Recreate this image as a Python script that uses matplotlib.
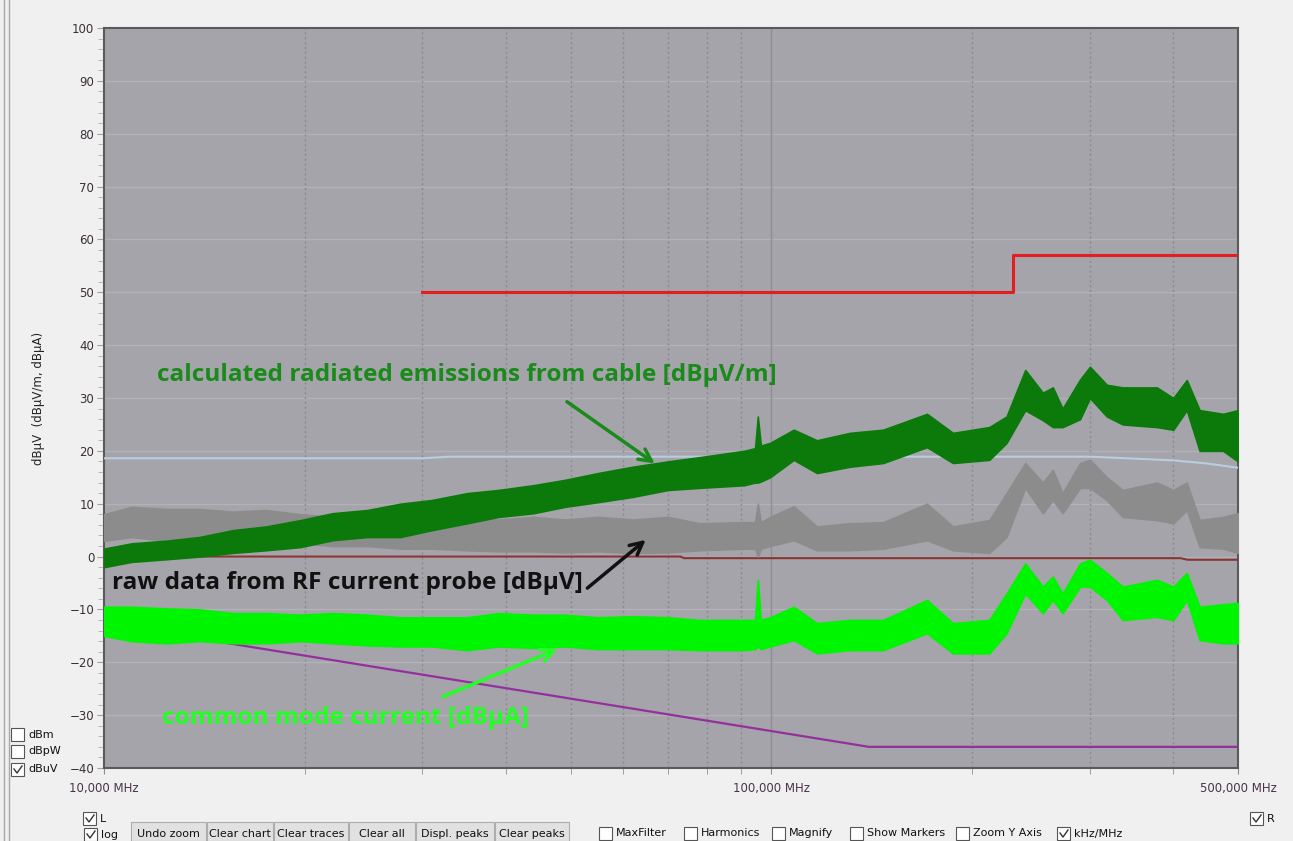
import numpy as np
import matplotlib
matplotlib.use("Agg")
import matplotlib.pyplot as plt
from matplotlib.patches import Rectangle

W, H = 1293, 841

# frequency grid (MHz) used for the noisy traces
freq = [10, 11, 12.4, 13.9, 15.6, 17.5, 19.7, 22, 24.8, 27.8, 31, 35, 39, 44, 49,
        55, 62, 70, 78, 91, 94.5, 95.4, 96.4, 99.5, 108, 117, 131, 147, 171, 187,
        212, 225, 240, 255, 264, 273, 290, 300, 318, 336, 378, 400, 419, 438, 475, 500]

# calculated radiated emissions [dBuV/m] - lower / upper envelope of the trace
re_lo = [-2, -1, -0.5, 0, 0.7, 1.2, 1.8, 3.1, 3.7, 3.7, 5, 6.3, 7.5, 8.2, 9.4,
         10.3, 11.3, 12.6, 13, 13.5, 14, 14, 14.2, 15, 18.3, 15.8, 17, 17.7, 20.7, 17.7,
         18.3, 21.5, 27.7, 25.8, 24.5, 24.5, 26, 30, 26.5, 25, 24.5, 24, 27.7, 20, 20, 18]
re_hi = [1.5, 2.5, 3, 3.7, 5, 5.7, 6.9, 8.2, 8.8, 10, 10.7, 12, 12.6, 13.5, 14.5,
         15.8, 17, 18, 18.8, 20, 20.5, 26.5, 21, 21.5, 24, 22, 23.4, 24, 27, 23.4,
         24.5, 26.5, 35.3, 31, 32, 28, 33.5, 35.9, 32.5, 32, 32, 30, 33.4, 27.7, 27, 27.7]

# raw data from RF current probe [dBuV]
raw_lo = [3, 3.7, 3, 3.5, 3, 3, 2.5, 2, 2, 1.5, 1.5, 1.2, 1, 1, 0.8,
          1, 0.7, 0.8, 1.2, 1.5, 1.5, 0, 1.5, 2, 3.1, 1.2, 1.2, 1.5, 3.1, 1.2,
          0.7, 3.7, 13, 8.2, 10.7, 8.2, 13, 13, 10.7, 7.5, 6.9, 6.3, 8.8, 1.8, 1.5, 0.7]
raw_hi = [8, 9.4, 9, 9, 8.5, 8.8, 8, 7.5, 7.5, 7, 7, 6.9, 7, 7.5, 7,
          7.5, 7, 7.5, 6.3, 6.5, 6.5, 10, 6.5, 7.5, 9.5, 5.7, 6.3, 6.5, 10, 5.7,
          6.9, 12, 17.7, 14, 16.4, 12, 17.7, 18.3, 15, 12.6, 14, 12.6, 14, 6.9, 7.5, 8.2]

# common mode current [dBuA]
cm_lo = [-15, -16, -16.4, -16, -16.4, -16.4, -16, -16.4, -16.8, -17, -17, -17.7, -17, -17.3, -17,
         -17.5, -17.5, -17.5, -17.7, -17.7, -17.5, -17, -17.5, -17, -15.8, -18.3, -17.7, -17.7, -14.5, -18.3,
         -18.3, -14.5, -7, -10.7, -8.2, -10.7, -5.7, -5.7, -8.2, -12, -11.4, -12, -8.2, -15.8, -16.4, -16.4]
cm_hi = [-9.5, -9.5, -9.8, -10, -10.7, -10.7, -11, -10.7, -11, -11.5, -11.5, -11.5, -10.7, -11, -11,
         -11.5, -11.3, -11.5, -12, -12, -12, -4.4, -12, -11.5, -9.5, -12.6, -12, -12, -8.2, -12.6,
         -12, -7, -1.3, -5.7, -3.8, -7, -1.3, -0.6, -3.1, -5.7, -4.4, -5.7, -3.1, -9.5, -9, -8.8]

# limit and reference lines
limit_f = [30, 230, 230, 500]
limit_v = [50, 50, 57, 57]
blue_f = [10, 30, 33, 230, 300, 340, 400, 450, 500]
blue_v = [18.6, 18.6, 18.9, 18.9, 18.9, 18.6, 18.2, 17.6, 16.8]
dred_f = [10, 73, 74, 410, 420, 500]
dred_v = [0, 0, -0.3, -0.3, -0.6, -0.6]
purple_f = [10, 140, 500]
purple_v = [-12.6, -36, -36]

xticks = [10, 100, 500]
xlabels = ["10,000 MHz", "100,000 MHz", "500,000 MHz"]


def fx(x):
    return x / W


def fy(y):
    return 1 - y / H


fig = plt.figure(figsize=(W / 100, H / 100), dpi=100)
fig.patch.set_facecolor("#f0f0f0")

ax = fig.add_axes([fx(104), fy(768), fx(1238) - fx(104), fy(28) - fy(768)])
ax.set_facecolor("#a5a4aa")
ax.set_xscale("log")
ax.set_xlim(10, 500)
ax.set_ylim(-40, 100)

# grid
for v in range(-30, 100, 10):
    ax.axhline(v, color="#b3b2b8", lw=1, zorder=1)
for f in [20, 30, 40, 50, 60, 70, 80, 90, 200, 300, 400]:
    ax.axvline(f, color="#8a8a8e", lw=1, ls=(0, (1.5, 2)), zorder=1)
ax.axvline(100, color="#8e8e92", lw=1, zorder=1)

# traces
ax.plot(blue_f, blue_v, color="#b9cde0", lw=1.5, zorder=3)
ax.plot(dred_f, dred_v, color="#8b3434", lw=1.5, zorder=3)
ax.plot(purple_f, purple_v, color="#93309e", lw=1.6, zorder=3)
ax.fill_between(freq, raw_lo, raw_hi, color="#8c8c8c", lw=1.2, zorder=4)
ax.fill_between(freq, cm_lo, cm_hi, color="#00f500", lw=1.2, zorder=5)
ax.fill_between(freq, re_lo, re_hi, color="#0b7a0b", lw=1.2, zorder=6)
ax.plot(limit_f, limit_v, color="#e41e1e", lw=2.2, zorder=7)

# annotations
note_font = dict(fontsize=17.6, fontweight="bold", family="Open Sans",
                 va="center", ha="left", zorder=9)
arrow_style = "->,head_length=0.9,head_width=0.45"
ax.text(12.0, 34.4, "calculated radiated emissions from cable [dB\u03bcV/m]",
        color="#1a8a1a", **note_font)
ax.annotate("", xy=(67.4, 17.3), xytext=(49.0, 29.6),
            arrowprops=dict(arrowstyle=arrow_style, color="#1a8a1a", lw=2.5), zorder=9)
ax.text(10.28, -5.0, "raw data from RF current probe [dB\u03bcV]",
        color="#111111", **note_font)
ax.annotate("", xy=(65.3, 3.5), xytext=(52.6, -6.3),
            arrowprops=dict(arrowstyle=arrow_style, color="#111111", lw=2.5), zorder=9)
ax.text(12.2, -30.5, "common mode current [dB\u03bcA]",
        color="#22ff22", **note_font)
ax.annotate("", xy=(48.2, -17.3), xytext=(31.9, -26.7),
            arrowprops=dict(arrowstyle=arrow_style, color="#22ff22", lw=2.5), zorder=9)

# axes styling
for s in ax.spines.values():
    s.set_color("#5a5a5a")
    s.set_linewidth(1.5)
ax.set_yticks(range(-40, 101, 10))
ax.set_yticks(np.arange(-40, 101, 2), minor=True)
ax.set_xticks(xticks)
ax.set_xticklabels(xlabels)
ax.set_xticks([20, 30, 40, 50, 60, 70, 80, 90, 200, 300, 400], minor=True)
ax.xaxis.set_minor_formatter(matplotlib.ticker.NullFormatter())
ax.tick_params(axis="y", which="major", length=5, color="#a0a0a0",
               labelsize=8.5, labelcolor="#3a2f38", pad=2)
ax.tick_params(axis="y", which="minor", length=4, color="#b0b0b0")
ax.tick_params(axis="x", which="both", length=4, color="#909090",
               labelsize=8.5, labelcolor="#4a3448", pad=6)
ax.set_ylabel("dB\u03bcV  (dB\u03bcV/m, dB\u03bcA)", fontsize=8.5, color="#222222",
              labelpad=18)

# window chrome around the chart
fig.add_artist(plt.Line2D([fx(4), fx(4)], [0, 1], color="#a8a8a8", lw=1))
fig.add_artist(plt.Line2D([fx(9), fx(9)], [0, 1], color="#a8a8a8", lw=1))


def checkbox(x, y, label, checked=False, size=13):
    fig.add_artist(Rectangle((fx(x), fy(y + size)), size / W, size / H,
                             facecolor="white", edgecolor="#555555", lw=0.8))
    if checked:
        fig.add_artist(plt.Line2D([fx(x + 3), fx(x + 6), fx(x + 11)],
                                  [fy(y + 6), fy(y + 10), fy(y + 3)],
                                  color="#333333", lw=1))
    fig.text(fx(x + size + 4), fy(y + size / 2), label, fontsize=8,
             family="DejaVu Sans", color="#111111", va="center", ha="left")


checkbox(11, 728, "dBm")
checkbox(11, 745, "dBpW")
checkbox(11, 763, "dBuV", True)
checkbox(83, 812, "L", True)
checkbox(84, 828, "log", True)
checkbox(1250, 812, "R", True)

buttons = [("Undo zoom", 131, 206), ("Clear chart", 207, 273), ("Clear traces", 274, 348),
           ("Clear all", 349, 415), ("Displ. peaks", 416, 494), ("Clear peaks", 495, 569)]
for label, x0, x1 in buttons:
    fig.add_artist(Rectangle((fx(x0), 0), (x1 - x0) / W, (H - 822) / H,
                             facecolor="#e1e1e1", edgecolor="#adadad", lw=0.8))
    fig.text(fx((x0 + x1) / 2), fy(834), label, fontsize=8, family="DejaVu Sans",
             color="#111111", va="center", ha="center")

for label, x0, chk in [("MaxFilter", 599, False), ("Harmonics", 684, False),
                       ("Magnify", 772, False), ("Show Markers", 850, False),
                       ("Zoom Y Axis", 956, False), ("kHz/MHz", 1057, True)]:
    checkbox(x0, 827, label, chk)

fig.savefig("out.png", dpi=100, facecolor=fig.get_facecolor())
